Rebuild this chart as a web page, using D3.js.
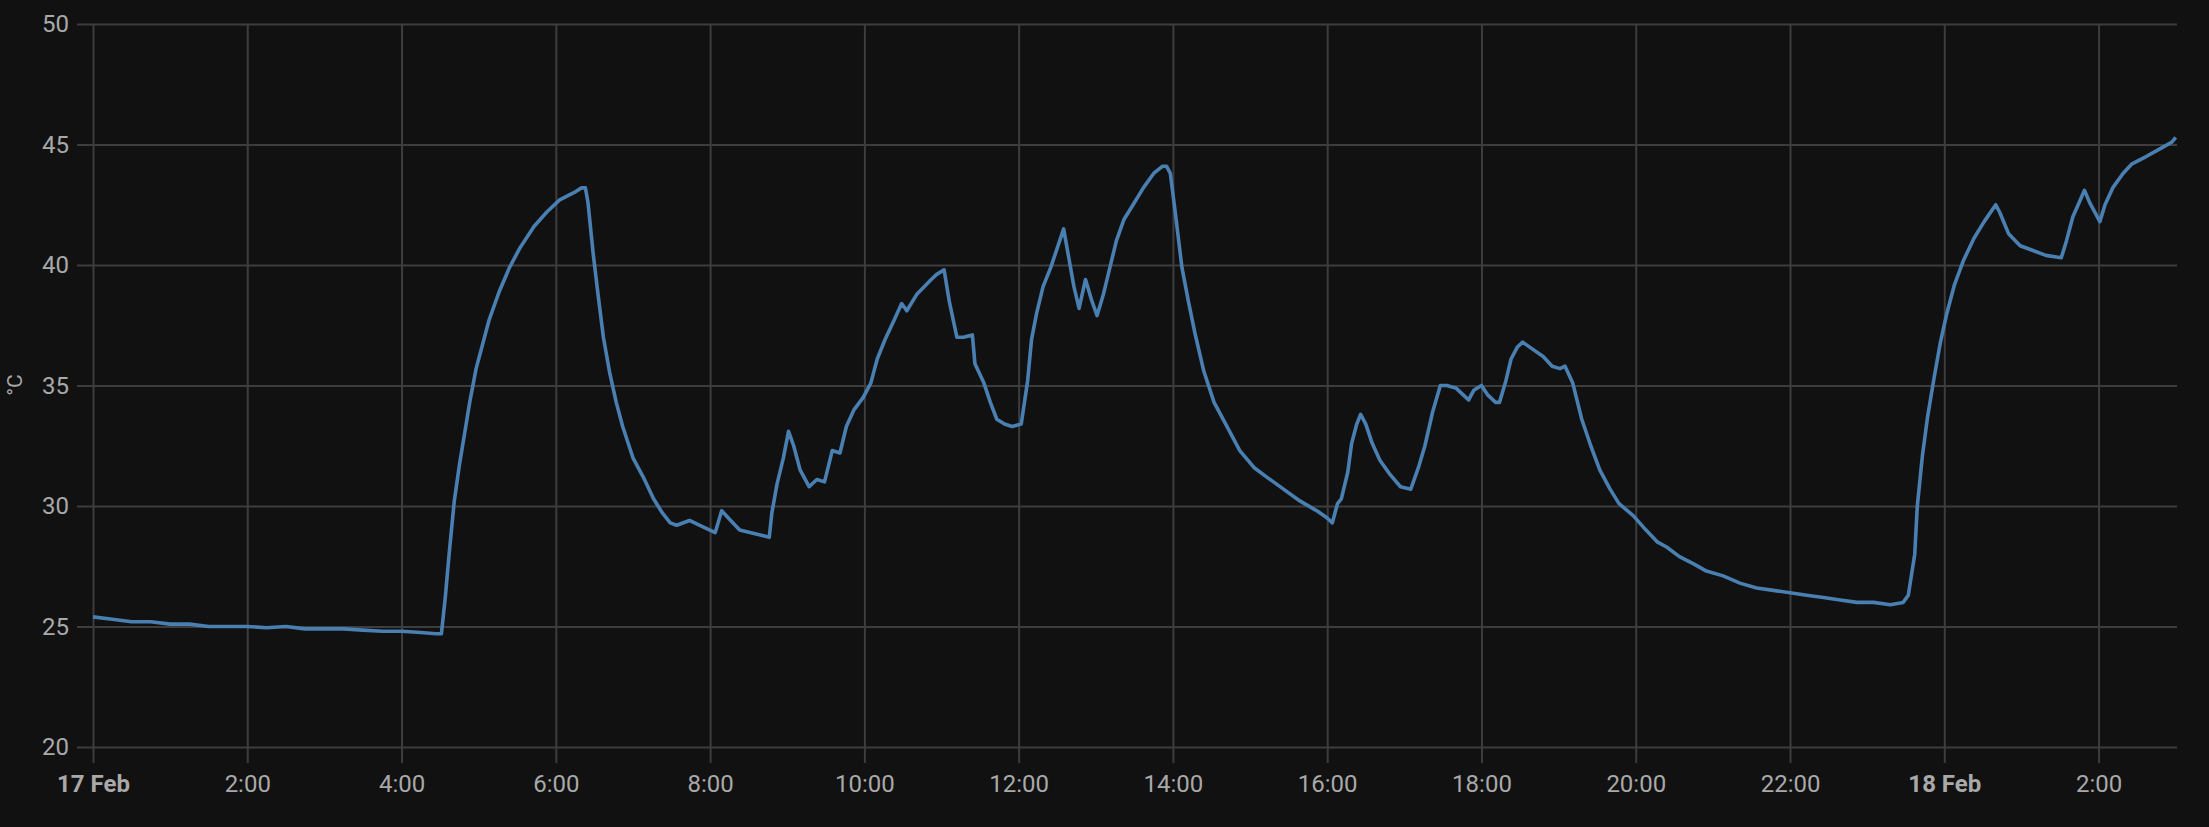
<!DOCTYPE html>
<html>
<head>
<meta charset="utf-8">
<script src="https://cdn.jsdelivr.net/npm/d3@7"></script>
<style>
  html, body { margin: 0; padding: 0; background: #111111; }
  svg { display: block; }
  text { font-family: Roboto, "Noto Sans", sans-serif; }
</style>
</head>
<body>
<svg id="chart" width="2209" height="827"></svg>
<script>
// ---- data ----
const times = [
  "02-17 00:00","02-17 00:15","02-17 00:30","02-17 00:45","02-17 01:00","02-17 01:15","02-17 01:30","02-17 01:45",
  "02-17 02:00","02-17 02:15","02-17 02:30","02-17 02:45","02-17 03:00","02-17 03:15","02-17 03:30","02-17 03:45",
  "02-17 04:00","02-17 04:15","02-17 04:27","02-17 04:31","02-17 04:34","02-17 04:37","02-17 04:41","02-17 04:45",
  "02-17 04:49","02-17 04:53","02-17 04:58","02-17 05:04","02-17 05:08","02-17 05:16","02-17 05:24","02-17 05:32",
  "02-17 05:43","02-17 05:53","02-17 06:03","02-17 06:14","02-17 06:20","02-17 06:23","02-17 06:25","02-17 06:29",
  "02-17 06:33","02-17 06:37","02-17 06:42","02-17 06:47","02-17 06:52","02-17 07:00","02-17 07:08","02-17 07:16",
  "02-17 07:23","02-17 07:29","02-17 07:34","02-17 07:44","02-17 07:52","02-17 08:04","02-17 08:09","02-17 08:16",
  "02-17 08:23","02-17 08:31","02-17 08:39","02-17 08:46","02-17 08:48","02-17 08:52","02-17 08:57","02-17 09:01",
  "02-17 09:05","02-17 09:10","02-17 09:17","02-17 09:23","02-17 09:29","02-17 09:35","02-17 09:41","02-17 09:46",
  "02-17 09:52","02-17 09:59","02-17 10:05","02-17 10:10","02-17 10:16","02-17 10:23","02-17 10:29","02-17 10:33",
  "02-17 10:41","02-17 10:52","02-17 10:56","02-17 11:02","02-17 11:06","02-17 11:12","02-17 11:17","02-17 11:24",
  "02-17 11:26","02-17 11:33","02-17 11:38","02-17 11:43","02-17 11:49","02-17 11:55","02-17 12:02","02-17 12:07",
  "02-17 12:10","02-17 12:14","02-17 12:19","02-17 12:25","02-17 12:30","02-17 12:35","02-17 12:39","02-17 12:43",
  "02-17 12:47","02-17 12:52","02-17 12:57","02-17 13:01","02-17 13:06","02-17 13:11","02-17 13:16","02-17 13:22",
  "02-17 13:29","02-17 13:37","02-17 13:45","02-17 13:52","02-17 13:55","02-17 13:58","02-17 14:02","02-17 14:07",
  "02-17 14:12","02-17 14:17","02-17 14:24","02-17 14:32","02-17 14:42","02-17 14:52","02-17 15:03","02-17 15:13",
  "02-17 15:26","02-17 15:39","02-17 15:52","02-17 16:00","02-17 16:04","02-17 16:08","02-17 16:11","02-17 16:16",
  "02-17 16:19","02-17 16:23","02-17 16:26","02-17 16:30","02-17 16:35","02-17 16:41","02-17 16:49","02-17 16:57",
  "02-17 17:05","02-17 17:07","02-17 17:11","02-17 17:16","02-17 17:22","02-17 17:28","02-17 17:33","02-17 17:40",
  "02-17 17:46","02-17 17:50","02-17 17:54","02-17 18:00","02-17 18:05","02-17 18:11","02-17 18:14","02-17 18:19",
  "02-17 18:23","02-17 18:28","02-17 18:32","02-17 18:40","02-17 18:48","02-17 18:55","02-17 19:01","02-17 19:05",
  "02-17 19:11","02-17 19:18","02-17 19:25","02-17 19:32","02-17 19:40","02-17 19:47","02-17 19:58","02-17 20:08",
  "02-17 20:17","02-17 20:24","02-17 20:34","02-17 20:45","02-17 20:55","02-17 21:08","02-17 21:21","02-17 21:34",
  "02-17 21:47","02-17 22:00","02-17 22:13","02-17 22:26","02-17 22:39","02-17 22:52","02-17 23:05","02-17 23:18",
  "02-17 23:28","02-17 23:32","02-17 23:37","02-17 23:39","02-17 23:43","02-17 23:47","02-17 23:52","02-17 23:57",
  "02-18 00:02","02-18 00:08","02-18 00:15","02-18 00:23","02-18 00:31","02-18 00:40","02-18 00:43","02-18 00:50",
  "02-18 00:59","02-18 01:09","02-18 01:19","02-18 01:31","02-18 01:35","02-18 01:40","02-18 01:45","02-18 01:49",
  "02-18 01:53","02-18 02:01","02-18 02:05","02-18 02:11","02-18 02:19","02-18 02:26","02-18 02:37","02-18 02:47",
  "02-18 02:57","02-18 03:00"
];
const temperature = [
  25.4,25.3,25.2,25.2,25.1,25.1,25.0,25.0,
  25.0,24.95,25.0,24.9,24.9,24.9,24.85,24.8,
  24.8,24.75,24.7,24.7,26.2,28.0,30.2,31.7,
  33.0,34.3,35.7,36.9,37.7,38.9,39.9,40.7,
  41.6,42.2,42.7,43.0,43.2,43.2,42.6,40.5,
  38.7,37.0,35.5,34.3,33.3,32.0,31.2,30.3,
  29.7,29.3,29.2,29.4,29.2,28.9,29.8,29.4,
  29.0,28.9,28.8,28.7,29.7,30.9,32.0,33.1,
  32.5,31.5,30.8,31.1,31.0,32.3,32.2,33.3,
  34.0,34.5,35.1,36.1,36.9,37.7,38.4,38.1,
  38.8,39.4,39.6,39.8,38.5,37.0,37.0,37.1,
  35.9,35.1,34.3,33.6,33.4,33.3,33.4,35.2,
  36.9,38.0,39.1,39.9,40.7,41.5,40.3,39.1,
  38.2,39.4,38.5,37.9,38.8,39.9,41.0,41.9,
  42.5,43.2,43.8,44.1,44.1,43.8,42.1,39.9,
  38.5,37.2,35.6,34.3,33.3,32.3,31.6,31.2,
  30.7,30.2,29.8,29.5,29.3,30.1,30.3,31.4,
  32.6,33.4,33.8,33.4,32.6,31.9,31.3,30.8,
  30.7,31.0,31.6,32.5,33.9,35.0,35.0,34.9,
  34.6,34.4,34.8,35.0,34.6,34.3,34.3,35.2,
  36.1,36.6,36.8,36.5,36.2,35.8,35.7,35.8,
  35.1,33.6,32.5,31.5,30.7,30.1,29.6,29.0,
  28.5,28.3,27.9,27.6,27.3,27.1,26.8,26.6,
  26.5,26.4,26.3,26.2,26.1,26.0,26.0,25.9,
  26.0,26.3,28.0,30.0,32.1,33.7,35.3,36.8,
  38.0,39.2,40.2,41.1,41.8,42.5,42.2,41.3,
  40.8,40.6,40.4,40.3,41.0,42.0,42.6,43.1,
  42.6,41.8,42.5,43.2,43.8,44.2,44.5,44.8,
  45.1,45.3
];
const yTicks = [20, 25, 30, 35, 40, 45, 50];
const unitLabel = "°C";
const timeStart = "02-17 00:00";
const timeEnd = "02-18 03:01";

// ---- drawing ----
const parse = d3.timeParse("%Y-%m-%d %H:%M");
const toDate = s => parse("2024-" + s);
const data = times.map((t, i) => ({ t: toDate(t), v: temperature[i] }));

const svg = d3.select("#chart");
const plotLeft = 93, plotRight = 2177, plotTop = 24, plotBottom = 747;
const gridColor = "#3d3d3d";
const labelColor = "#a9a9a9";

svg.append("rect").attr("width", 2209).attr("height", 827).attr("fill", "#111111");

const x = d3.scaleTime().domain([toDate(timeStart), toDate(timeEnd)]).range([plotLeft, plotRight]);
const y = d3.scaleLinear().domain([20, 50]).range([plotBottom, plotTop]);

// horizontal grid + y labels
const yAxis = d3.axisLeft(y).tickValues(yTicks).tickSize(-(plotRight - 77)).tickPadding(8).tickFormat(d3.format("d"));
const gy = svg.append("g").attr("transform", "translate(77,0)").call(yAxis);
gy.select(".domain").remove();
gy.selectAll(".tick line").attr("stroke", gridColor).attr("stroke-width", 2);
gy.selectAll(".tick text").attr("fill", labelColor).attr("font-size", 24)
  .attr("font-family", "Roboto, sans-serif");

// vertical grid + x labels
const xAxis = d3.axisBottom(x).ticks(d3.timeHour.every(2)).tickSize(-(763 - plotTop)).tickPadding(12)
  .tickFormat(d => d.getHours() === 0 ? d3.timeFormat("%-d %b")(d) : d3.timeFormat("%-H:%M")(d));
const gx = svg.append("g").attr("transform", "translate(0,763)").call(xAxis);
gx.select(".domain").remove();
gx.selectAll(".tick line").attr("stroke", gridColor).attr("stroke-width", 2);
gx.selectAll(".tick text").attr("fill", labelColor).attr("font-size", 24)
  .attr("font-family", "Roboto, sans-serif")
  .attr("font-weight", d => d.getHours() === 0 ? "bold" : "normal");

// unit label
svg.append("text")
  .attr("transform", "translate(22,385) rotate(-90)")
  .attr("text-anchor", "middle")
  .attr("fill", labelColor)
  .attr("font-size", 21)
  .text(unitLabel);

// series line
const line = d3.line().x(d => x(d.t)).y(d => y(d.v)).curve(d3.curveLinear);
svg.append("path")
  .datum(data)
  .attr("fill", "none")
  .attr("stroke", "#4a7fb1")
  .attr("stroke-width", 3.6)
  .attr("stroke-linejoin", "round")
  .attr("d", line);
</script>
</body>
</html>
